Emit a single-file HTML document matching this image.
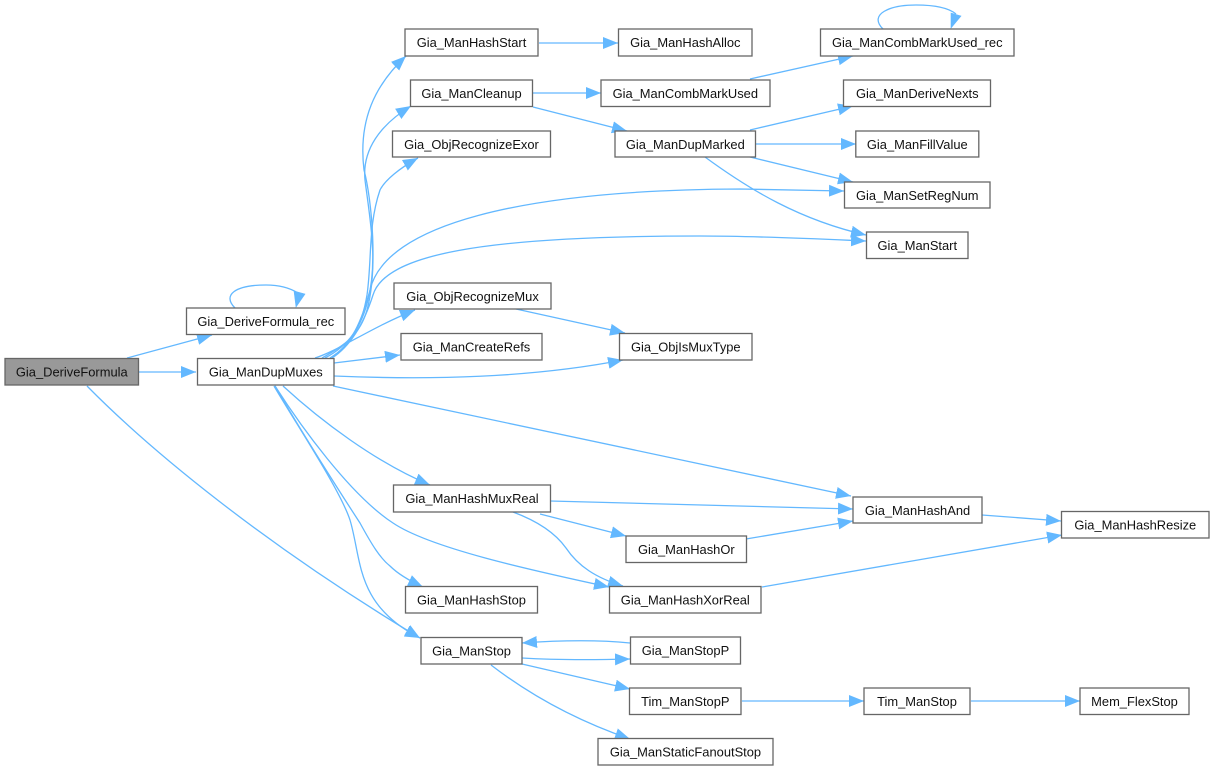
<!DOCTYPE html>
<html><head><meta charset="utf-8">
<style>
html,body{margin:0;padding:0;background:#fff;width:1213px;height:771px;overflow:hidden}
svg{display:block}
.e{fill:none;stroke:#63b8ff;stroke-width:1.3;marker-end:url(#ah)}
.l{fill:none;stroke:#63b8ff;stroke-width:1.3}
.a{fill:#63b8ff;stroke:#63b8ff;stroke-width:.6}
.n{fill:#fff;stroke:#666;stroke-width:1.3}
text{font-family:"Liberation Sans",sans-serif;font-size:12.9px;fill:#111;text-anchor:middle}
</style></head><body>
<svg width="1213" height="771" viewBox="0 0 1213 771" xmlns="http://www.w3.org/2000/svg">
<defs><marker id="ah" markerUnits="userSpaceOnUse" markerWidth="16" markerHeight="13" refX="15" refY="6" orient="auto"><polygon points="0,0 15,6 0,12" fill="#63b8ff"/></marker></defs>
<!-- edges -->
<path class="e" d="M127,358 L212,335"/>
<path class="e" d="M139,372 L196,372"/>
<path class="e" d="M87,386 C150,450 265,545 420,638"/>
<path class="l" d="M235,308 C222,295 235,285 266,285 C280,285 290,288 298,293"/><polygon class="a" points="296,307 294,291 305,294"/>
<path class="e" d="M322,358 C345,345 360,335 367,310 C378,270 372,200 364,170 C358,120 375,85 406,56"/>
<path class="e" d="M325,358 C350,345 362,325 368,300 C378,260 370,220 365,180 C362,150 380,125 411,106"/>
<path class="e" d="M330,358 C352,345 362,325 367,295 C372,260 368,225 380,190 C385,180 400,168 418,158"/>
<path class="e" d="M330,358 C352,345 362,320 370,290 C385,225 520,190 740,189 L844,191"/>
<path class="e" d="M332,358 C352,345 365,320 373,295 C385,255 480,236 700,236 C760,236 820,239 866,241"/>
<path class="e" d="M315,358 C340,350 370,328 415,310"/>
<path class="e" d="M334,363 L400,355"/>
<path class="e" d="M334,376 C430,380 530,378 623,360"/>
<path class="e" d="M333,386 L851,496"/>
<path class="e" d="M283,386 C320,420 375,462 430,485"/>
<path class="e" d="M275,386 C300,425 350,495 393,523 C430,548 530,570 609,587"/>
<path class="e" d="M275,386 C300,430 345,500 360,523 C372,545 380,558 390,566 C398,574 410,581 423,587"/>
<path class="e" d="M274,386 C300,430 340,490 350,520 C362,560 355,605 420,638"/>
<path class="e" d="M539,43 L618,43"/>
<path class="e" d="M533,93 L601,93"/>
<path class="e" d="M533,107 L627,131"/>
<path class="e" d="M750,79 L853,56"/>
<path class="e" d="M750,130 L853,106"/>
<path class="e" d="M756,144 L856,144"/>
<path class="e" d="M750,157 L853,182"/>
<path class="e" d="M705,157 C750,190 800,220 866,235"/>
<path class="l" d="M883,29 C868,14 890,5 916,5 C938,5 950,9 956,14"/><polygon class="a" points="951,28 951,13 961,16"/>
<path class="e" d="M516,309 L625,333"/>
<path class="e" d="M550,501 L853,509"/>
<path class="e" d="M540,514 L626,536"/>
<path class="e" d="M513,512 C540,522 556,534 566,548 C578,566 596,578 623,586"/>
<path class="e" d="M746,539 L853,521"/>
<path class="e" d="M762,587 L1062,535"/>
<path class="e" d="M982,515 L1061,521"/>
<path class="e" d="M630,643 C600,640 565,640 522,643"/>
<path class="e" d="M522,658 C555,660 590,660 630,659"/>
<path class="e" d="M522,664 L630,689"/>
<path class="e" d="M491,665 C530,695 575,720 630,739"/>
<path class="e" d="M742,701 L864,701"/>
<path class="e" d="M971,701 L1080,701"/>
<!-- nodes -->
<rect x="5" y="358.500" width="133.500" height="26.500" style="fill:#999" class="n"/><text x="71.800" y="376.500">Gia_DeriveFormula</text>
<rect x="186.500" y="308" width="158.500" height="26.500" class="n"/><text x="265.800" y="326">Gia_DeriveFormula_rec</text>
<rect x="197.500" y="358.500" width="136.500" height="26.500" class="n"/><text x="265.800" y="376.500">Gia_ManDupMuxes</text>
<rect x="405" y="29" width="133" height="27" class="n"/><text x="471.500" y="47">Gia_ManHashStart</text>
<rect x="410.500" y="80" width="122" height="26.500" class="n"/><text x="471.500" y="98">Gia_ManCleanup</text>
<rect x="392.500" y="131" width="158" height="26" class="n"/><text x="471.500" y="149">Gia_ObjRecognizeExor</text>
<rect x="618.500" y="29" width="133.500" height="27" class="n"/><text x="685.300" y="47">Gia_ManHashAlloc</text>
<rect x="601" y="80" width="169" height="26.500" class="n"/><text x="685.300" y="98">Gia_ManCombMarkUsed</text>
<rect x="615" y="131" width="140.500" height="26" class="n"/><text x="685.300" y="149">Gia_ManDupMarked</text>
<rect x="820.500" y="29" width="193.500" height="27" class="n"/><text x="917.300" y="47">Gia_ManCombMarkUsed_rec</text>
<rect x="843.500" y="80" width="147" height="26.500" class="n"/><text x="917.300" y="98">Gia_ManDeriveNexts</text>
<rect x="855.800" y="131" width="123" height="26" class="n"/><text x="917.300" y="149">Gia_ManFillValue</text>
<rect x="844.500" y="182" width="145.500" height="26" class="n"/><text x="917.300" y="200">Gia_ManSetRegNum</text>
<rect x="866.500" y="232" width="101.500" height="26.500" class="n"/><text x="917.300" y="250">Gia_ManStart</text>
<rect x="394" y="283" width="157" height="26" class="n"/><text x="472.500" y="301">Gia_ObjRecognizeMux</text>
<rect x="401" y="333.500" width="141" height="26.500" class="n"/><text x="471.500" y="351.500">Gia_ManCreateRefs</text>
<rect x="619.500" y="333.500" width="132.500" height="26.500" class="n"/><text x="685.800" y="351.500">Gia_ObjIsMuxType</text>
<rect x="393.500" y="485" width="157" height="27" class="n"/><text x="472" y="503">Gia_ManHashMuxReal</text>
<rect x="853" y="497" width="129" height="26" class="n"/><text x="917.500" y="515">Gia_ManHashAnd</text>
<rect x="1061.500" y="511.500" width="147.500" height="26.500" class="n"/><text x="1135.300" y="529.500">Gia_ManHashResize</text>
<rect x="626" y="536" width="120.500" height="26.500" class="n"/><text x="686.300" y="554">Gia_ManHashOr</text>
<rect x="609.500" y="586.500" width="151.500" height="26.500" class="n"/><text x="685.300" y="604.500">Gia_ManHashXorReal</text>
<rect x="405.500" y="586.500" width="132" height="26.500" class="n"/><text x="471.500" y="604.500">Gia_ManHashStop</text>
<rect x="421" y="637.500" width="101" height="26.500" class="n"/><text x="471.500" y="655.500">Gia_ManStop</text>
<rect x="630.500" y="637" width="110" height="27" class="n"/><text x="685.500" y="655">Gia_ManStopP</text>
<rect x="629.500" y="688" width="111.500" height="26.500" class="n"/><text x="685.300" y="706">Tim_ManStopP</text>
<rect x="864" y="688" width="106" height="26.500" class="n"/><text x="917" y="706">Tim_ManStop</text>
<rect x="1080" y="688" width="109" height="26.500" class="n"/><text x="1134.500" y="706">Mem_FlexStop</text>
<rect x="598" y="738.500" width="175" height="26.500" class="n"/><text x="685.500" y="756.500">Gia_ManStaticFanoutStop</text>
</svg>
</body></html>
